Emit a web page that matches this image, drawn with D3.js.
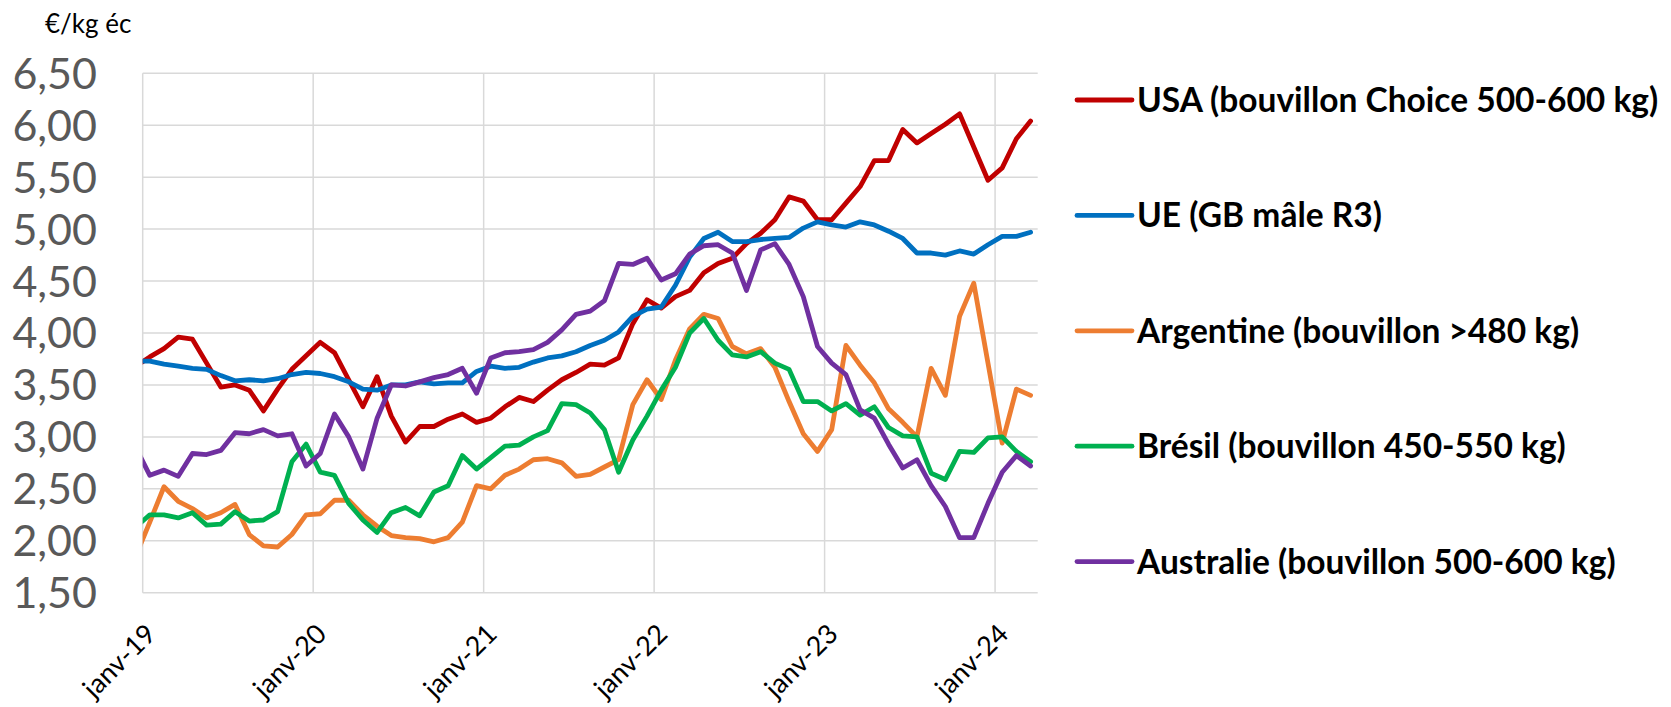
<!DOCTYPE html>
<html lang="fr">
<head>
<meta charset="UTF-8">
<title>Prix des bovins</title>
<script src="https://d3js.org/d3.v7.min.js"></script>
<style>
  body { margin: 0; background: #fff; }
  text { font-family: Lato, "Open Sans", sans-serif; }
</style>
</head>
<body>
<script>
// monthly points, déc-18 .. mars-24 (Excel draws each one mid-month)
var months = d3.timeMonth.range(new Date(2018, 11, 1), new Date(2024, 3, 1));
var axisStart = new Date(2019, 0, 1);

var tickLabels = ["janv-19", "janv-20", "janv-21", "janv-22", "janv-23", "janv-24"];
var tickMonths = [0, 12, 24, 36, 48, 60];
var yTicks = [1.5, 2, 2.5, 3, 3.5, 4, 4.5, 5, 5.5, 6, 6.5];

var usa = [3.68, 3.77, 3.85, 3.96, 3.94, 3.71, 3.48, 3.50, 3.45, 3.25, 3.46, 3.65, 3.78,
  3.91, 3.81, 3.55, 3.29, 3.58, 3.20, 2.95, 3.10, 3.10, 3.17, 3.22, 3.14,
  3.18, 3.29, 3.38, 3.34, 3.45, 3.55, 3.62, 3.70, 3.69, 3.76, 4.09, 4.32,
  4.24, 4.35, 4.41, 4.58, 4.67, 4.72, 4.86, 4.96, 5.09, 5.31, 5.27, 5.09,
  5.09, 5.25, 5.41, 5.66, 5.66, 5.96, 5.83, 5.92, 6.01, 6.11, 5.79, 5.47,
  5.59, 5.87, 6.04];
var ue = [3.73, 3.73, 3.70, 3.68, 3.66, 3.65, 3.59, 3.54, 3.55, 3.54, 3.56, 3.60, 3.62,
  3.61, 3.58, 3.53, 3.46, 3.45, 3.50, 3.50, 3.53, 3.51, 3.52, 3.52, 3.63,
  3.68, 3.66, 3.67, 3.72, 3.76, 3.78, 3.82, 3.88, 3.93, 4.01, 4.16, 4.23,
  4.25, 4.46, 4.73, 4.91, 4.97, 4.88, 4.88, 4.90, 4.91, 4.92, 5.01, 5.07,
  5.04, 5.02, 5.07, 5.04, 4.98, 4.91, 4.77, 4.77, 4.75, 4.79, 4.76, 4.85,
  4.93, 4.93, 4.97];
var argentine = [1.85, 2.18, 2.52, 2.38, 2.31, 2.22, 2.27, 2.35, 2.06, 1.95, 1.94, 2.06, 2.25,
  2.26, 2.39, 2.39, 2.25, 2.14, 2.05, 2.03, 2.02, 1.99, 2.03, 2.18, 2.53,
  2.50, 2.63, 2.69, 2.78, 2.79, 2.75, 2.62, 2.64, 2.71, 2.78, 3.31, 3.55,
  3.36, 3.74, 4.04, 4.18, 4.14, 3.87, 3.80, 3.85, 3.67, 3.34, 3.03, 2.86,
  3.07, 3.88, 3.69, 3.52, 3.27, 3.14, 3.00, 3.66, 3.40, 4.16, 4.48, 3.71,
  2.94, 3.46, 3.40];
var bresil = [2.13, 2.25, 2.25, 2.22, 2.27, 2.15, 2.16, 2.28, 2.19, 2.20, 2.28, 2.76, 2.93,
  2.66, 2.63, 2.36, 2.20, 2.08, 2.27, 2.32, 2.24, 2.47, 2.53, 2.82, 2.69,
  2.80, 2.91, 2.92, 3.00, 3.06, 3.32, 3.31, 3.23, 3.07, 2.66, 2.97, 3.20,
  3.45, 3.67, 4.00, 4.14, 3.93, 3.79, 3.77, 3.82, 3.71, 3.65, 3.34, 3.34,
  3.25, 3.32, 3.21, 3.29, 3.09, 3.01, 3.00, 2.65, 2.59, 2.86, 2.85, 2.99,
  3.00, 2.86, 2.76];
var australie = [2.90, 2.63, 2.68, 2.62, 2.84, 2.83, 2.87, 3.04, 3.03, 3.07, 3.01, 3.03, 2.72,
  2.84, 3.22, 3.00, 2.69, 3.18, 3.50, 3.49, 3.53, 3.57, 3.60, 3.66, 3.42,
  3.76, 3.81, 3.82, 3.84, 3.91, 4.03, 4.18, 4.21, 4.31, 4.67, 4.66, 4.72,
  4.51, 4.57, 4.76, 4.84, 4.85, 4.77, 4.41, 4.80, 4.86, 4.66, 4.35, 3.87,
  3.71, 3.60, 3.26, 3.18, 2.93, 2.70, 2.78, 2.53, 2.33, 2.03, 2.03, 2.36,
  2.66, 2.82, 2.72];

var seriesNames = ["USA (bouvillon Choice 500-600 kg)", "UE (GB mâle R3)",
  "Argentine (bouvillon >480 kg)", "Brésil (bouvillon 450-550 kg)",
  "Australie (bouvillon 500-600 kg)"];
var seriesColors = ["#C00000", "#0070C0", "#ED7D31", "#00B050", "#7030A0"];
var seriesValues = [usa, ue, argentine, bresil, australie];

var w = 1671, h = 707;
var plotLeft = 142.7, plotRight = 1037.7, plotTop = 73.3, plotBottom = 592.7;

var x = d3.scaleLinear().domain([0, 63]).range([plotLeft, plotRight]);
var y = d3.scaleLinear().domain([1.5, 6.5]).range([plotBottom, plotTop]);
var fmt = d3.format(".2f");

var svg = d3.select("body").append("svg")
  .attr("width", w)
  .attr("height", h)
  .style("display", "block");

svg.append("clipPath").attr("id", "plot")
  .append("rect")
  .attr("x", plotLeft).attr("y", plotTop - 10)
  .attr("width", plotRight - plotLeft).attr("height", plotBottom - plotTop + 10);

// grid
svg.append("g").selectAll("line").data(yTicks).join("line")
  .attr("x1", plotLeft).attr("x2", plotRight)
  .attr("y1", d => y(d)).attr("y2", d => y(d))
  .attr("stroke", "#d9d9d9").attr("stroke-width", 1.5);
svg.append("g").selectAll("line").data(tickMonths).join("line")
  .attr("x1", d => x(d)).attr("x2", d => x(d))
  .attr("y1", plotTop).attr("y2", plotBottom)
  .attr("stroke", "#d9d9d9").attr("stroke-width", 1.5);

// y labels
svg.append("g").selectAll("text").data(yTicks).join("text")
  .attr("x", 97).attr("y", d => y(d))
  .attr("dy", "0.36em")
  .attr("text-anchor", "end")
  .attr("font-size", 43)
  .attr("fill", "#595959")
  .text(d => fmt(d).replace(".", ","));

svg.append("text")
  .attr("x", 45).attr("y", 33)
  .attr("font-size", 26)
  .attr("fill", "#000")
  .text("€/kg éc");

// x labels
svg.append("g").selectAll("text").data(tickMonths).join("text")
  .attr("transform", d => "translate(" + (x(d) + 15) + "," + (plotBottom + 43) + ") rotate(-45)")
  .attr("text-anchor", "end")
  .attr("font-size", 27)
  .attr("fill", "#000")
  .text((d, i) => tickLabels[i]);

// lines
var line = d3.line()
  .x((d, i) => x(d3.timeMonth.count(axisStart, months[i]) + 0.5))
  .y(d => y(d));

svg.append("g").attr("clip-path", "url(#plot)")
  .selectAll("path").data(seriesValues).join("path")
  .attr("d", d => line(d))
  .attr("fill", "none")
  .attr("stroke", (d, i) => seriesColors[i])
  .attr("stroke-width", 4.8)
  .attr("stroke-linejoin", "round")
  .attr("stroke-linecap", "round");

// legend
var legend = svg.append("g").selectAll("g").data(seriesNames).join("g")
  .attr("transform", (d, i) => "translate(1077," + (100 + i * 115.4) + ")");
legend.append("line")
  .attr("x1", 0).attr("x2", 55)
  .attr("stroke", (d, i) => seriesColors[i])
  .attr("stroke-width", 4.8)
  .attr("stroke-linecap", "round");
legend.append("text")
  .attr("x", 60).attr("dy", "0.36em")
  .attr("font-size", 33.5)
  .attr("font-weight", "bold")
  .attr("fill", "#000")
  .text(d => d);
</script>
</body>
</html>
